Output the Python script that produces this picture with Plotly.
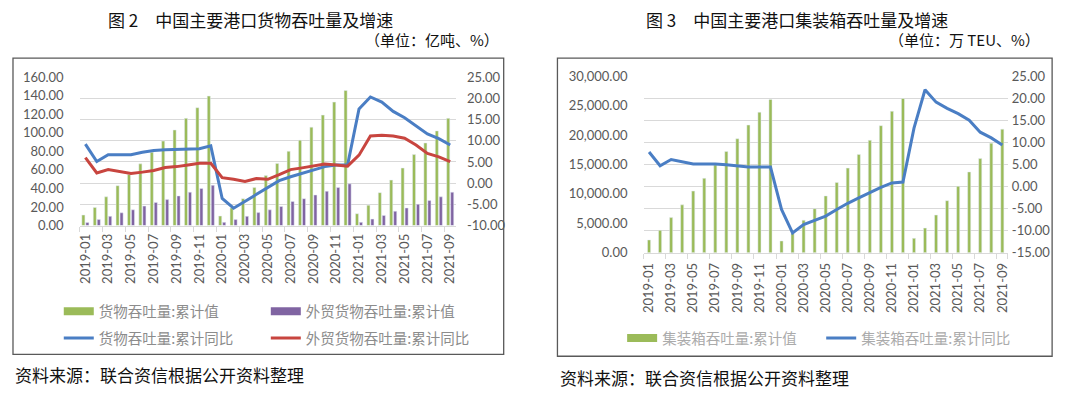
import plotly.graph_objects as go

# target canvas is 1080x393; the page body adds an 8px margin, so the figure is
# drawn 8px smaller and all layout pixel positions are shifted by that offset.
PAGE_W, PAGE_H = 1080, 393
OFF = 8
W, H = PAGE_W - OFF, PAGE_H - OFF

# ---------------- data ----------------
months = ["2019-01", "2019-02", "2019-03", "2019-04", "2019-05", "2019-06",
          "2019-07", "2019-08", "2019-09", "2019-10", "2019-11", "2019-12",
          "2020-01", "2020-02", "2020-03", "2020-04", "2020-05", "2020-06",
          "2020-07", "2020-08", "2020-09", "2020-10", "2020-11", "2020-12",
          "2021-01", "2021-02", "2021-03", "2021-04", "2021-05", "2021-06",
          "2021-07", "2021-08", "2021-09"]
tick_months = months[::2]

# Figure 2 : cargo throughput (亿吨) and cumulative YoY (%)
cargo_cum = [11.4, 19.6, 31.0, 43.0, 55.0, 66.5, 79.0, 91.0, 103.0, 115.5, 127.0, 139.5,
             10.3, 19.0, 29.0, 41.0, 54.0, 67.0, 80.0, 92.0, 106.0, 119.0, 133.0, 145.5,
             12.8, 22.0, 35.5, 49.0, 62.0, 76.5, 89.0, 102.0, 115.5]
foreign_cum = [3.4, 6.5, 10.0, 13.8, 17.0, 21.0, 25.0, 28.0, 32.0, 36.0, 40.0, 43.5,
               3.5, 6.5, 10.0, 14.0, 17.0, 20.7, 26.0, 29.0, 33.0, 37.0, 41.0, 45.0,
               3.5, 7.0, 11.0, 15.5, 19.0, 23.0, 27.0, 31.0, 36.0]
cargo_yoy = [9.2, 5.1, 6.7, 6.7, 6.7, 7.3, 7.7, 7.9, 8.0, 8.0, 8.1, 8.8,
             -3.6, -5.9, -4.3, -2.5, -1.0, 0.6, 1.5, 2.3, 3.2, 3.9, 4.3, 4.3,
             17.5, 20.3, 19.1, 16.9, 15.4, 13.5, 11.6, 10.5, 9.0]
foreign_yoy = [6.0, 2.4, 3.2, 2.7, 2.3, 2.6, 3.0, 3.7, 3.9, 4.3, 4.7, 4.7,
               1.3, 0.9, 0.4, 1.1, 0.9, 2.0, 3.2, 3.6, 4.1, 4.5, 4.3, 4.0,
               6.6, 11.1, 11.3, 11.1, 10.6, 9.0, 7.0, 6.2, 5.1]

# Figure 3 : container throughput (万TEU) and cumulative YoY (%)
teu_cum = [2170, 3800, 5970, 8130, 10470, 12640, 14910, 17190, 19360, 21690, 23860, 26030,
           2000, 3300, 5530, 7480, 9650, 11930, 14370, 16700, 19090, 21580, 24020, 26190,
           2440, 4180, 6400, 8840, 11280, 13720, 16000, 18600, 20990]
teu_yoy = [7.8, 4.7, 6.1, 5.6, 5.1, 5.1, 5.1, 4.9, 4.7, 4.4, 4.4, 4.4,
           -5.2, -10.5, -8.6, -7.6, -6.7, -5.2, -3.8, -2.6, -1.4, -0.2, 0.8, 1.0,
           13.2, 21.9, 19.1, 17.7, 16.5, 15.0, 12.3, 11.0, 9.4]

# axis tick values
f2_left_ticks = [0, 20, 40, 60, 80, 100, 120, 140, 160]
f2_right_ticks = [-10, -5, 0, 5, 10, 15, 20, 25]
f3_left_ticks = [0, 5000, 10000, 15000, 20000, 25000, 30000]
f3_right_ticks = [-15, -10, -5, 0, 5, 10, 15, 20, 25]

names2 = ["货物吞吐量:累计值", "外贸货物吞吐量:累计值", "货物吞吐量:累计同比", "外贸货物吞吐量:累计同比"]
names3 = ["集装箱吞吐量:累计值", "集装箱吞吐量:累计同比"]

# ---------------- style ----------------
GREEN = "#9BBB59"
PURPLE = "#8064A2"
BLUE = "#4A7EC4"
RED = "#C8453F"
TICK_COLOR = "#595959"
GRID = "#D9D9D9"
NUM_FONT = "Lato, 'Noto Sans CJK SC', sans-serif"
CJK_FONT = "'Noto Sans CJK SC', sans-serif"


def fx(px):
    return (px - OFF) / W


def fy(py):
    return 1 - (py - OFF) / H


def fmt(v, comma=False):
    return f"{v:,.2f}" if comma else f"{v:.2f}"


# plot areas in page pixels
P1 = dict(l=77, r=455, t=71.7, b=226.7)
P2 = dict(l=643.5, r=1009.5, t=70.7, b=255)

fig = go.Figure()

# ---- Figure 2 traces ----
fig.add_trace(go.Bar(x=months, y=cargo_cum, marker_color=GREEN, width=0.27, offset=-0.31,
                     xaxis="x", yaxis="y", showlegend=False, name=names2[0]))
fig.add_trace(go.Bar(x=months, y=foreign_cum, marker_color=PURPLE, width=0.27, offset=0.04,
                     xaxis="x", yaxis="y", showlegend=False, name=names2[1]))
fig.add_trace(go.Scatter(x=months, y=cargo_yoy, mode="lines", line=dict(color=BLUE, width=3),
                         xaxis="x", yaxis="y2", name=names2[2], legend="legend3"))
fig.add_trace(go.Scatter(x=months, y=foreign_yoy, mode="lines", line=dict(color=RED, width=3),
                         xaxis="x", yaxis="y2", name=names2[3], legend="legend4"))
# legend swatches for the bar series
fig.add_trace(go.Scatter(x=[None], y=[None], mode="lines", line=dict(color=GREEN, width=8),
                         xaxis="x", yaxis="y", name=names2[0], legend="legend"))
fig.add_trace(go.Scatter(x=[None], y=[None], mode="lines", line=dict(color=PURPLE, width=8),
                         xaxis="x", yaxis="y", name=names2[1], legend="legend2"))

# ---- Figure 3 traces ----
fig.add_trace(go.Bar(x=months, y=teu_cum, marker_color=GREEN, width=0.28, offset=-0.14,
                     xaxis="x2", yaxis="y3", showlegend=False, name=names3[0]))
fig.add_trace(go.Scatter(x=months, y=teu_yoy, mode="lines", line=dict(color=BLUE, width=3),
                         xaxis="x2", yaxis="y4", name=names3[1], legend="legend6"))
fig.add_trace(go.Scatter(x=[None], y=[None], mode="lines", line=dict(color=GREEN, width=8),
                         xaxis="x2", yaxis="y3", name=names3[0], legend="legend5"))

xcommon = dict(type="category", range=[-0.5, 32.5], tickmode="array", tickvals=tick_months,
               ticktext=tick_months, tickangle=-90, showline=True, linecolor=GRID, linewidth=1,
               ticks="outside", ticklen=5, tickcolor=GRID, tickson="boundaries", showgrid=False,
               tickfont=dict(family=NUM_FONT, size=13, color=TICK_COLOR), zeroline=False,
               fixedrange=True)

ycommon = dict(showline=False, zeroline=False, ticks="", fixedrange=True,
               tickfont=dict(family=NUM_FONT, size=13, color=TICK_COLOR))

fig.update_layout(
    width=W, height=H,
    margin=dict(l=0, r=0, t=0, b=0),
    paper_bgcolor="white", plot_bgcolor="white",
    barmode="group",
    xaxis=dict(domain=[fx(P1["l"]), fx(P1["r"])], anchor="y", ticklabelstandoff=2, **xcommon),
    yaxis=dict(domain=[fy(P1["b"]), fy(P1["t"])], anchor="x", range=[0, 160],
               tickmode="array", tickvals=f2_left_ticks,
               ticktext=[fmt(v) for v in f2_left_ticks], showgrid=False,
               ticklabelstandoff=15, **ycommon),
    yaxis2=dict(overlaying="y", side="right", anchor="x", range=[-10, 25],
                tickmode="array", tickvals=f2_right_ticks,
                ticktext=[fmt(v) for v in f2_right_ticks], showgrid=True, gridcolor=GRID,
                ticklabelstandoff=10, **ycommon),
    xaxis2=dict(domain=[fx(P2["l"]), fx(P2["r"])], anchor="y3", ticklabelstandoff=4, **xcommon),
    yaxis3=dict(domain=[fy(P2["b"]), fy(P2["t"])], anchor="x2", range=[0, 30000],
                tickmode="array", tickvals=f3_left_ticks,
                ticktext=[fmt(v, True) for v in f3_left_ticks], showgrid=False,
                ticklabelstandoff=15, **ycommon),
    yaxis4=dict(overlaying="y3", side="right", anchor="x2", range=[-15, 25],
                tickmode="array", tickvals=f3_right_ticks,
                ticktext=[fmt(v) for v in f3_right_ticks], showgrid=True, gridcolor=GRID,
                ticklabelstandoff=3, **ycommon),
)

leg_common = dict(orientation="v", xanchor="left", yanchor="middle", bgcolor="rgba(0,0,0,0)",
                  borderwidth=0, itemwidth=30)
font2 = dict(family=CJK_FONT, size=14.5, color="#8C8C8C")
font3 = dict(family=CJK_FONT, size=14.5, color="#ABABAB")
fig.update_layout(
    legend=dict(x=fx(56), y=fy(316), font=font2, **leg_common),
    legend2=dict(x=fx(264), y=fy(316), font=font2, **leg_common),
    legend3=dict(x=fx(56), y=fy(344), font=font2, **leg_common),
    legend4=dict(x=fx(264), y=fy(344), font=font2, **leg_common),
    legend5=dict(x=fx(622), y=fy(344), font=font3, **leg_common),
    legend6=dict(x=fx(822), y=fy(344), font=font3, **leg_common),
)

# frames around the two charts
fig.add_shape(type="rect", xref="paper", yref="paper", x0=fx(10), x1=fx(503), y0=fy(361), y1=fy(52),
              line=dict(color="#595959", width=1.3), fillcolor="rgba(0,0,0,0)", layer="below")
fig.add_shape(type="rect", xref="paper", yref="paper", x0=fx(557), x1=fx(1054), y0=fy(363), y1=fy(52),
              line=dict(color="#595959", width=1.3), fillcolor="rgba(0,0,0,0)", layer="below")

ann = [
    dict(text="图 2　中国主要港口货物吞吐量及增速", x=fx(249), y=fy(11.5), xanchor="center", size=17),
    dict(text="（单位：亿吨、%）", x=fx(499), y=fy(33), xanchor="right", size=15),
    dict(text="图 3　中国主要港口集装箱吞吐量及增速", x=fx(798), y=fy(11.5), xanchor="center", size=17),
    dict(text="（单位：万 TEU、%）", x=fx(1043), y=fy(33), xanchor="right", size=15),
    dict(text="资料来源：联合资信根据公开资料整理", x=fx(11), y=fy(382), xanchor="left", size=17),
    dict(text="资料来源：联合资信根据公开资料整理", x=fx(559), y=fy(385), xanchor="left", size=17),
]
for a in ann:
    fig.add_annotation(text=a["text"], xref="paper", yref="paper", x=a["x"], y=a["y"],
                       xanchor=a["xanchor"], yanchor="middle", showarrow=False, borderpad=0,
                       font=dict(family=CJK_FONT, size=a["size"], color="#111111"))

fig.write_html("out.html")
